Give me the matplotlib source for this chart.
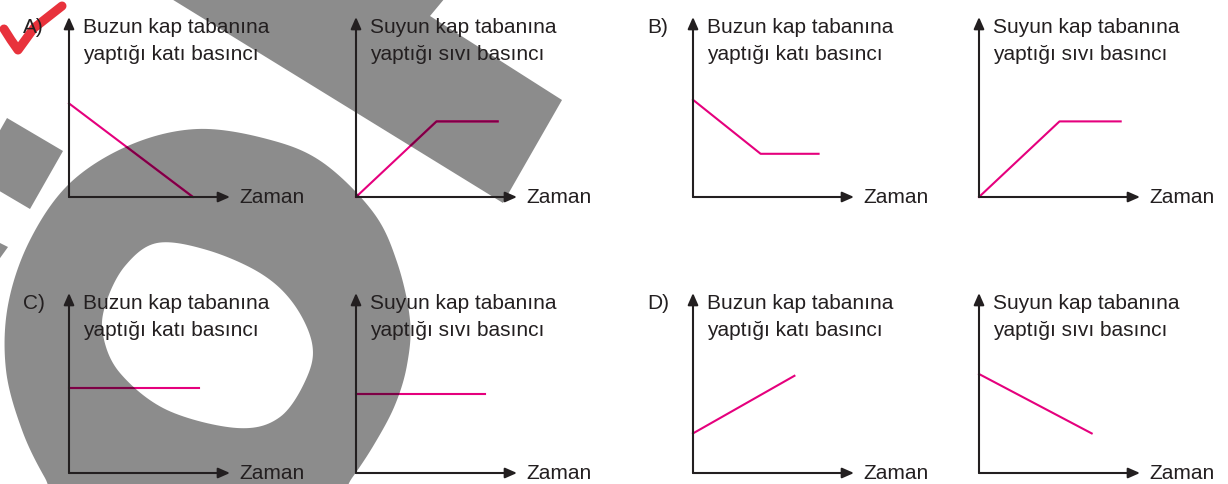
import numpy as np
import matplotlib
matplotlib.use("Agg")
import matplotlib.pyplot as plt
from matplotlib.path import Path
from matplotlib.patches import PathPatch

plt.rcParams['font.family'] = ['Liberation Sans', 'DejaVu Sans']

# graph data (time, pressure) in arbitrary units
buz_A_t = [0, 7.7]
buz_A_p = [5.2, 0]
su_A_t = [0, 5.0, 8.8]
su_A_p = [0, 4.2, 4.2]

buz_B_t = [0, 4.2, 7.8]
buz_B_p = [5.4, 2.4, 2.4]
su_B_t = [0, 5.0, 8.8]
su_B_p = [0, 4.2, 4.2]

buz_C_t = [0, 8.1]
buz_C_p = [4.7, 4.7]
su_C_t = [0, 8.0]
su_C_p = [4.4, 4.4]

buz_D_t = [0, 6.3]
buz_D_p = [2.2, 5.4]
su_D_t = [0, 7.0]
su_D_p = [5.5, 2.2]

options = ["A)", "B)", "C)", "D)"]
buz_title = ["Buzun kap tabanına", "yaptığı katı basıncı"]
su_title = ["Suyun kap tabanına", "yaptığı sıvı basıncı"]
x_label = "Zaman"

W, H = 1228, 484
INK = '#231f20'
PINK = '#e5007d'
DARK_PINK = '#7d0045'
GRAY = '#8c8c8c'

fig = plt.figure(figsize=(W / 100, H / 100), dpi=100)
bg = fig.add_axes([0, 0, 1, 1])
bg.set_xlim(0, W)
bg.set_ylim(H, 0)
bg.axis('off')


# gray scribbles over the sheet
def smooth(pts, n=16):
    p = np.array(pts, float)
    out = []
    N = len(p)
    for i in range(N):
        p0, p1, p2, p3 = p[i - 1], p[i], p[(i + 1) % N], p[(i + 2) % N]
        for t in np.linspace(0, 1, n, endpoint=False):
            out.append(0.5 * (2 * p1 + (-p0 + p2) * t
                              + (2 * p0 - 5 * p1 + 4 * p2 - p3) * t * t
                              + (-p0 + 3 * p1 - 3 * p2 + p3) * t ** 3))
    return np.array(out)


def poly(pts, sign=1):
    a = np.array(pts, float)
    area = 0.5 * np.sum(a[:, 0] * np.roll(a[:, 1], -1) - np.roll(a[:, 0], -1) * a[:, 1])
    if np.sign(area) != sign:
        a = a[::-1]
    v = np.vstack([a, a[:1]])
    codes = [Path.MOVETO] + [Path.LINETO] * (len(a) - 1) + [Path.CLOSEPOLY]
    return Path(v, codes)


band = [(170, -2), (445, -2), (430, 16), (562, 100), (503, 203)]
square = [(7, 118), (63, 151), (30, 209), (-26, 176)]
piece = [(-10, 238), (8, 247), (-10, 272)]
outer = smooth([(197, 129), (267, 139), (322, 162), (373, 212), (397, 262),
                (410, 320), (407, 365), (395, 405), (375, 443), (352, 478),
                (320, 520), (200, 545), (70, 515), (45, 478), (22, 430),
                (6, 370), (8, 305), (30, 240), (70, 183), (130, 145)])
inner = smooth([(157, 243), (207, 250), (260, 273), (293, 303), (312, 343),
                (307, 377), (280, 417), (237, 428), (167, 410), (120, 373),
                (103, 335), (106, 303), (125, 266)])

shape_paths = [poly(band), poly(square), poly(piece),
               Path.make_compound_path(poly(outer, 1), poly(inner, -1))]
gray_patches = []
for sp in shape_paths:
    patch = PathPatch(sp, facecolor=GRAY, edgecolor='none')
    bg.add_patch(patch)
    gray_patches.append(patch)

# red tick
bg.plot([4, 11, 18, 34, 62], [29, 40, 50, 28, 6], color='#e8323c', lw=6.5,
        solid_capstyle='round', solid_joinstyle='round')

panels = [
    (69, 197, buz_A_t, buz_A_p, buz_title, options[0]),
    (356, 197, su_A_t, su_A_p, su_title, None),
    (693, 197, buz_B_t, buz_B_p, buz_title, options[1]),
    (979, 197, su_B_t, su_B_p, su_title, None),
    (69, 473, buz_C_t, buz_C_p, buz_title, options[2]),
    (356, 473, su_C_t, su_C_p, su_title, None),
    (693, 473, buz_D_t, buz_D_p, buz_title, options[3]),
    (979, 473, su_D_t, su_D_p, su_title, None),
]

AX_W, AX_H = 161, 180
for ox, oy, t, p, title, opt in panels:
    ax = fig.add_axes([ox / W, 1 - oy / H, AX_W / W, AX_H / H])
    ax.set_xlim(0, 10)
    ax.set_ylim(0, 10)
    ax.axis('off')
    ax.plot(t, p, color=PINK, lw=1.5, clip_on=False, zorder=2)
    # the part of the line under the gray shapes looks darker
    for patch in gray_patches:
        dark, = ax.plot(t, p, color=DARK_PINK, lw=1.5, zorder=3)
        dark.set_clip_path(patch)
    arrow = dict(arrowstyle='-|>,head_length=0.5,head_width=0.22',
                 mutation_scale=14, lw=1.5, color=INK, shrinkA=0, shrinkB=0)
    ax.annotate('', xy=(1, 0), xytext=(0, 0), xycoords='axes fraction',
                arrowprops=arrow, zorder=4)
    ax.annotate('', xy=(0, 1), xytext=(0, 0), xycoords='axes fraction',
                arrowprops=arrow, zorder=4)

    bg.text(ox + 14, oy - 164, title[0], fontsize=15, color=INK, va='baseline')
    bg.text(ox + 14, oy - 137, title[1], fontsize=15, color=INK, va='baseline')
    bg.text(ox + 170, oy + 6, x_label, fontsize=15, color=INK, va='baseline')
    if opt:
        bg.text(ox - 46, oy - 164, opt, fontsize=15, color=INK, va='baseline')

fig.savefig('out.png', dpi=100)
